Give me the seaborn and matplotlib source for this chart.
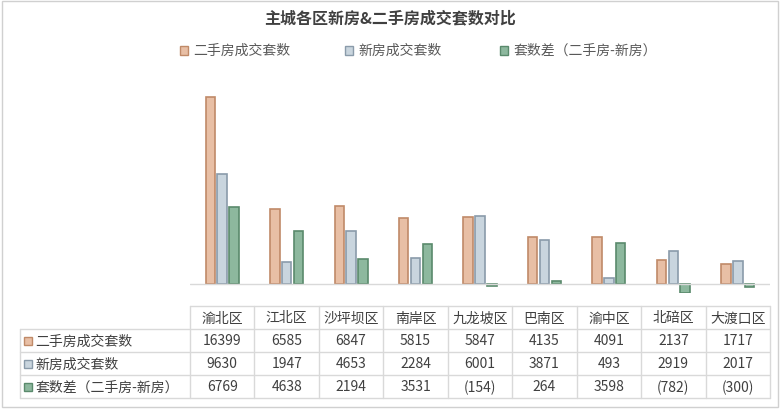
import matplotlib
matplotlib.use("Agg")
import matplotlib.pyplot as plt
import seaborn as sns
import pandas as pd
from matplotlib.patches import Rectangle

districts = ["渝北区", "江北区", "沙坪坝区", "南岸区", "九龙坡区", "巴南区", "渝中区", "北碚区", "大渡口区"]
second_hand = [16399, 6585, 6847, 5815, 5847, 4135, 4091, 2137, 1717]
new_house = [9630, 1947, 4653, 2284, 6001, 3871, 493, 2919, 2017]
diff = [6769, 4638, 2194, 3531, -154, 264, 3598, -782, -300]
series = ["二手房成交套数", "新房成交套数", "套数差（二手房-新房）"]

sns.set_theme(style="white")
plt.rcParams['font.family'] = ['Noto Sans CJK SC', 'DejaVu Sans']

fills = ["#E8BFA5", "#C9D5DE", "#8DB89E"]
edges = ["#C08A68", "#8A9BAA", "#5A8A6C"]

df = pd.DataFrame({
    "区": districts * 3,
    "系列": sum([[s] * len(districts) for s in series], []),
    "值": second_hand + new_house + diff,
})

W, H = 780, 410
fig = plt.figure(figsize=(W / 100, H / 100), dpi=100)
x0, x1 = 190, 770
ax = fig.add_axes([x0 / W, 1 - 294 / H, (x1 - x0) / W, (294 - 88) / H])
sns.barplot(data=df, x="区", y="值", hue="系列", palette=fills, width=0.55, gap=0.2,
            ax=ax, legend=False, saturation=1)
for i, cont in enumerate(ax.containers):
    for p in cont:
        p.set_edgecolor(edges[i]); p.set_linewidth(1.2)
ax.set_ylim(-800, 17300)
ax.set_xlim(-0.5, len(districts) - 0.5)
ax.axhline(0, color="#D9D9D9", lw=1)
ax.axis("off")

fig.text(390 / W, 1 - 18 / H, "主城各区新房&二手房成交套数对比", ha="center", va="center",
         fontsize=11.5, color="#404040", fontweight="bold")

# legend
leg_x = [180, 345, 500]
for lx, s, f, e in zip(leg_x, series, fills, edges):
    fig.patches.append(Rectangle((lx / W, 1 - 56 / H), 8 / W, 9 / H, transform=fig.transFigure,
                                 facecolor=f, edgecolor=e, lw=1))
    fig.text((lx + 13) / W, 1 - 51 / H, s, fontsize=10, color="#595959", va="center")

# data table
tax = fig.add_axes([0, 0, 1, 1]); tax.set_xlim(0, W); tax.set_ylim(H, 0); tax.axis("off")
tax.add_patch(Rectangle((2, 2), W - 4, H - 4, facecolor="none", edgecolor="#D0D0D0", lw=1))
lc = "#D9D9D9"
row_y = [307, 330, 353, 376, 399]
ncol = len(districts)
cw = (x1 - x0) / ncol
for k, y in enumerate(row_y):
    xs = x0 if k == 0 else 20
    tax.plot([xs, x1], [y, y], color=lc, lw=1)
for j in range(ncol + 1):
    tax.plot([x0 + j * cw] * 2, [307, 399], color=lc, lw=1)
tax.plot([20, 20], [330, 399], color=lc, lw=1)
for j, d in enumerate(districts):
    tax.text(x0 + (j + .5) * cw, 318.5, d, ha="center", va="center", fontsize=10, color="#404040")
def fmt(v):
    return f"({-v})" if v < 0 else str(v)
for r, (vals, s, f, e) in enumerate(zip([second_hand, new_house, diff], series, fills, edges)):
    yc = row_y[r + 1] + 11.5
    tax.add_patch(Rectangle((24, yc - 4), 8, 8, facecolor=f, edgecolor=e, lw=1))
    tax.text(35, yc, s, va="center", fontsize=10, color="#404040")
    for j, v in enumerate(vals):
        tax.text(x0 + (j + .5) * cw, yc, fmt(v), ha="center", va="center", fontsize=10, color="#404040")

fig.savefig("out.png", dpi=100, facecolor="white")
